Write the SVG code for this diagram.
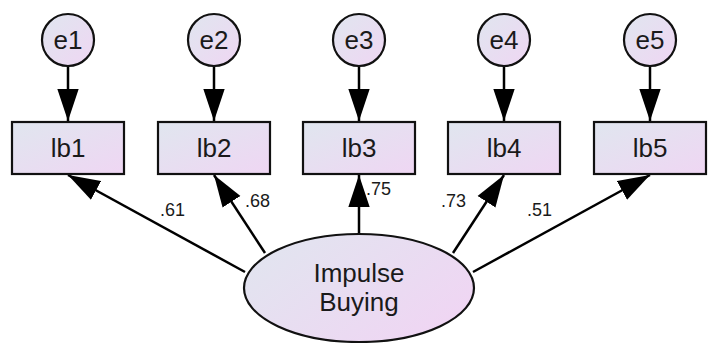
<svg xmlns="http://www.w3.org/2000/svg" width="710" height="343" viewBox="0 0 710 343">
<defs>
<linearGradient id="g" x1="0" y1="0" x2="1" y2="1">
<stop offset="0" stop-color="#e0e6ef"/>
<stop offset="1" stop-color="#efd6f3"/>
</linearGradient>
<linearGradient id="ge" x1="0" y1="0" x2="1" y2="0.6">
<stop offset="0" stop-color="#e0e6ef"/>
<stop offset="1" stop-color="#efd6f3"/>
</linearGradient>
<marker id="ah" markerUnits="userSpaceOnUse" markerWidth="32" markerHeight="22" viewBox="0 0 30 20" refX="30" refY="10" orient="auto">
<path d="M0,0 L30,10 L0,20 z" fill="#000"/>
</marker>
<style>
.n{stroke:#111;stroke-width:2.2;fill:url(#g)}
.t{font-family:"Liberation Sans",Arial,sans-serif;font-size:26px;fill:#1a1a1a;text-anchor:middle;dominant-baseline:central}
.l{font-family:"Liberation Sans",Arial,sans-serif;font-size:18px;fill:#1a1a1a}
.c{stroke:#000;stroke-width:2.5;fill:none;marker-end:url(#ah)}
</style>
</defs>
<g id="connectors">
<line class="c" x1="68" y1="66" x2="68" y2="121"/>
<line class="c" x1="214" y1="66" x2="214" y2="121"/>
<line class="c" x1="359" y1="66" x2="359" y2="121"/>
<line class="c" x1="504" y1="66" x2="504" y2="121"/>
<line class="c" x1="650" y1="66" x2="650" y2="121"/>
<line class="c" x1="245" y1="272" x2="68" y2="175"/>
<line class="c" x1="265" y1="253" x2="214" y2="175"/>
<line class="c" x1="359" y1="233" x2="359" y2="175"/>
<line class="c" x1="453" y1="253" x2="504" y2="175"/>
<line class="c" x1="473" y1="272" x2="650" y2="175"/>
<text class="l" x="160" y="216">.61</text>
<text class="l" x="245" y="207">.68</text>
<text class="l" x="366" y="195">.75</text>
<text class="l" x="441" y="207">.73</text>
<text class="l" x="527" y="216">.51</text>
</g>
<g id="e1"><circle class="n" cx="68" cy="40" r="26"/><text class="t" x="68" y="40">e1</text></g>
<g id="e2"><circle class="n" cx="214" cy="40" r="26"/><text class="t" x="214" y="40">e2</text></g>
<g id="e3"><circle class="n" cx="359" cy="40" r="26"/><text class="t" x="359" y="40">e3</text></g>
<g id="e4"><circle class="n" cx="504" cy="40" r="26"/><text class="t" x="504" y="40">e4</text></g>
<g id="e5"><circle class="n" cx="650" cy="40" r="26"/><text class="t" x="650" y="40">e5</text></g>
<g id="lb1"><rect class="n" x="12" y="122" width="112" height="52"/><text class="t" x="68" y="148">lb1</text></g>
<g id="lb2"><rect class="n" x="158" y="122" width="112" height="52"/><text class="t" x="214" y="148">lb2</text></g>
<g id="lb3"><rect class="n" x="303" y="122" width="112" height="52"/><text class="t" x="359" y="148">lb3</text></g>
<g id="lb4"><rect class="n" x="448" y="122" width="112" height="52"/><text class="t" x="504" y="148">lb4</text></g>
<g id="lb5"><rect class="n" x="594" y="122" width="112" height="52"/><text class="t" x="650" y="148">lb5</text></g>
<g id="impulse"><ellipse cx="359" cy="288" rx="115" ry="54" stroke="#111" stroke-width="2.2" fill="url(#ge)"/>
<text class="t" x="359" y="273">Impulse</text><text class="t" x="359" y="302">Buying</text></g>
</svg>
